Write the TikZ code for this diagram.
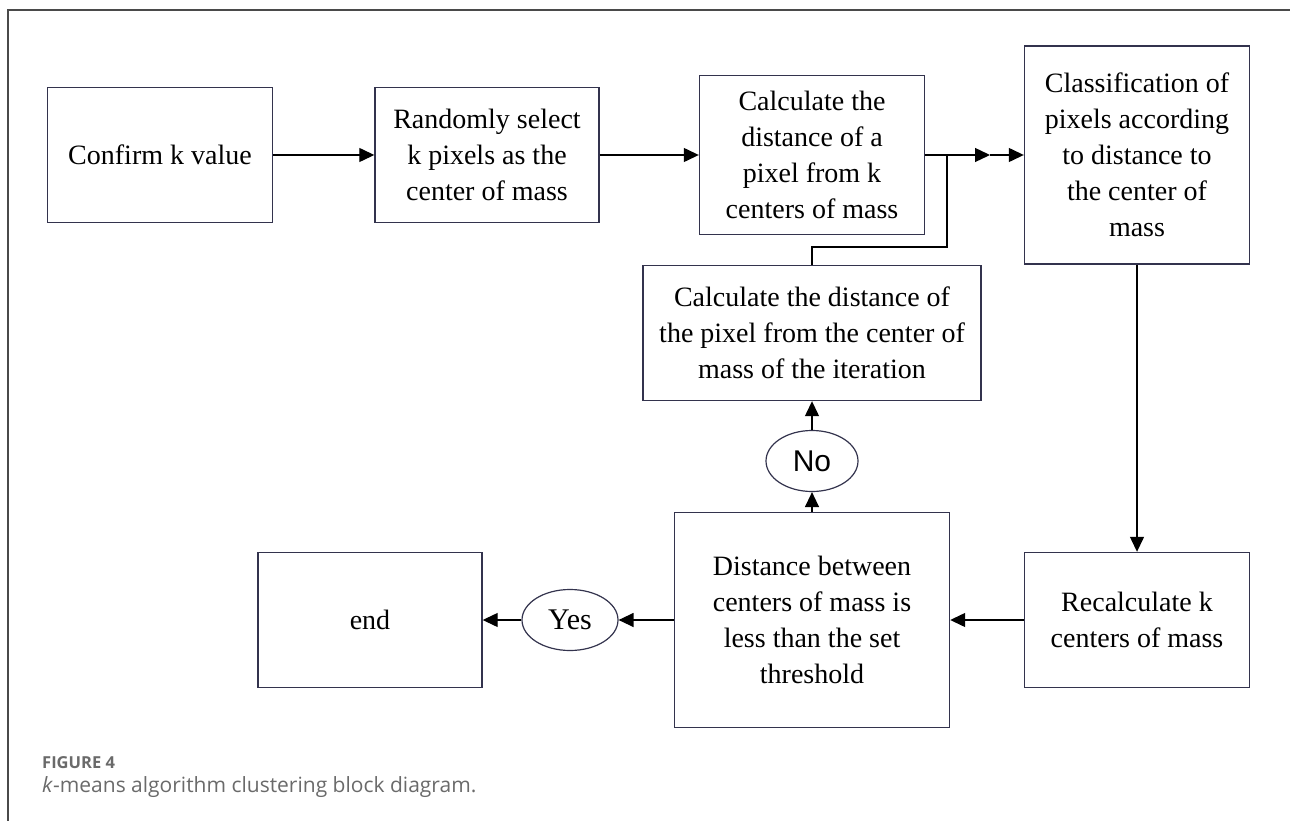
\documentclass[tikz,border=0pt]{standalone}
\usepackage{fontspec}
\setmainfont{Liberation Serif}
\newfontfamily\capfont{Open Sans}
\newfontfamily\nofont{Liberation Sans}
\usetikzlibrary{arrows.meta,shapes.geometric}
\definecolor{boxline}{HTML}{33334D}
\definecolor{framegray}{HTML}{4A4A4A}
\definecolor{capgray}{HTML}{6A6A6A}
\begin{document}
\begin{tikzpicture}[x=1pt,y=-1pt,
    block/.style={draw=boxline,line width=1.4pt,align=center,inner sep=0pt,
      font=\fontsize{28}{36}\selectfont},
    oval/.style={draw=boxline,line width=1.2pt,ellipse,inner sep=0pt,
      minimum width=92pt,minimum height=61pt},
    arr/.style={line width=1.3pt,-{Triangle[length=15pt,width=14pt]}},
    link/.style={line width=1.3pt}]
  \useasboundingbox (0,0) rectangle (1290,821);
  \draw[framegray,line width=1.5pt] (1290,10) -- (8,10) -- (8,821);
  \draw
    (160,155) node[block,minimum width=225pt,minimum height=135pt] (confirm){Confirm k value}
    (487,155) node[block,minimum width=224pt,minimum height=135pt] (select){Randomly select\\k pixels as the\\center of mass}
    (812,155) node[block,minimum width=225pt,minimum height=159pt] (calc){Calculate the\\distance of a\\pixel from k\\centers of mass}
    (1137,155) node[block,minimum width=225pt,minimum height=218pt] (classify){Classification of\\pixels according\\to distance to\\the center of\\mass}
    (812,333) node[block,minimum width=338pt,minimum height=135pt] (iter){Calculate the distance of\\the pixel from the center of\\mass of the iteration}
    (812,461) node[oval,font=\nofont\fontsize{30}{34}\selectfont] (no){No}
    (812,620) node[block,minimum width=275pt,minimum height=215pt] (thresh){Distance between\\centers of mass is\\less than the set\\threshold}
    (1137,620) node[block,minimum width=225pt,minimum height=135pt] (recalc){Recalculate k\\centers of mass}
    (570,620) node[oval,minimum width=96pt,font=\fontsize{30}{34}\selectfont] (yes){Yes}
    (370,620) node[block,minimum width=224pt,minimum height=135pt] (end){end};
  \coordinate (mid) at (990,155);
  \coordinate (bend) at (947,247);
  \coordinate (merge) at (947,155);
  \begin{scope}[arr]
    \draw (confirm) -- (select);
    \draw (select) -- (calc);
    \draw (calc) -- (mid);
    \draw (mid) -- (classify);
    \draw (classify) -- (recalc);
    \draw (recalc) -- (thresh);
    \draw (thresh) -- (yes);
    \draw (yes) -- (end);
    \draw (thresh) -- (no);
    \draw (no) -- (iter);
  \end{scope}
  \draw[link] (iter.north) |- (bend) -- (merge);
  \node[anchor=base west,inner sep=0pt,text=capgray,font=\capfont\bfseries\fontsize{16.5}{18}\selectfont] (fig) at (42,768) {FIGURE 4};
  \node[anchor=base west,inner sep=0pt,text=capgray,font=\capfont\fontsize{21}{24}\selectfont] (caption) at (42,792) {\textit{k}-means algorithm clustering block diagram.};
\end{tikzpicture}
\end{document}
